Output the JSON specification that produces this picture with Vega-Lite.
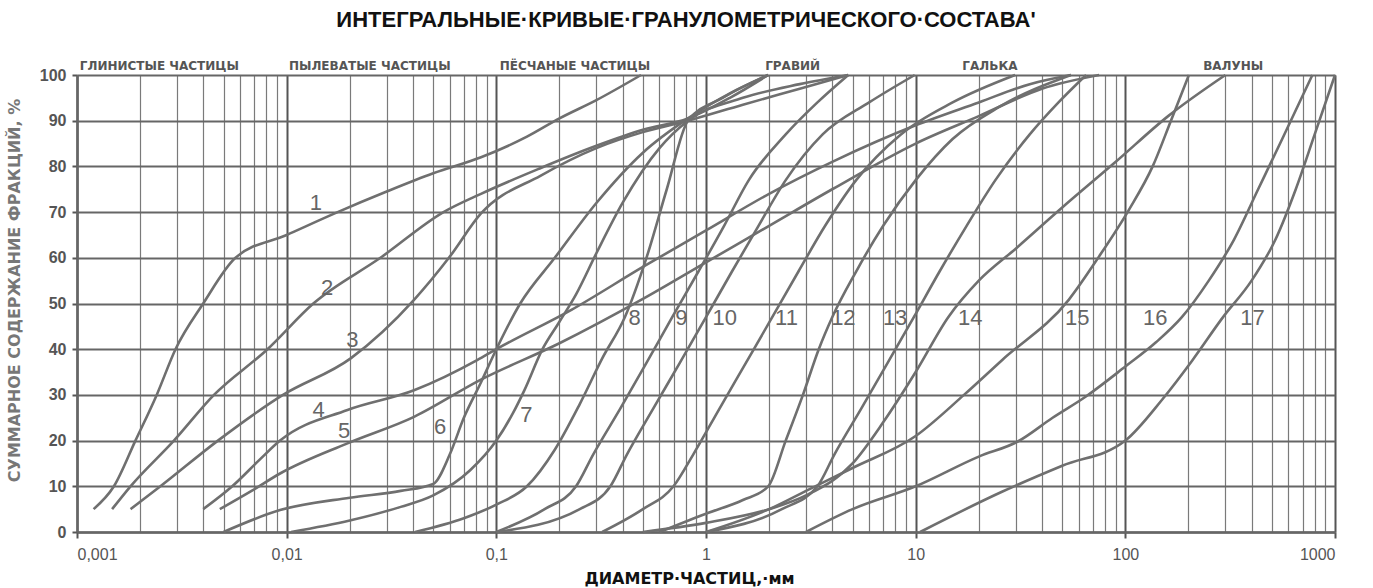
{
  "$schema": "https://vega.github.io/schema/vega-lite/v6.json",
  "autosize": "none",
  "width": 1258,
  "height": 457,
  "padding": {"left": 77, "top": 75, "right": 38, "bottom": 56},
  "background": "white",
  "config": {"view": {"stroke": null}},
  "title": {
    "text": "ИНТЕГРАЛЬНЫЕ·КРИВЫЕ·ГРАНУЛОМЕТРИЧЕСКОГО·СОСТАВА'",
    "anchor": "middle",
    "dx": -20,
    "offset": 28,
    "font": "Liberation Sans",
    "fontSize": 22,
    "fontWeight": "bold",
    "color": "#111"
  },
  "datasets": {
    "curves": [
      {"c": 1, "d": 0.0012, "p": 5}, {"c": 1, "d": 0.0015, "p": 10}, {"c": 1, "d": 0.0019, "p": 20}, {"c": 1, "d": 0.0024, "p": 30}, {"c": 1, "d": 0.00295, "p": 40}, {"c": 1, "d": 0.004, "p": 50}, {"c": 1, "d": 0.0057, "p": 60}, {"c": 1, "d": 0.01, "p": 65}, {"c": 1, "d": 0.0175, "p": 70}, {"c": 1, "d": 0.03, "p": 74.5}, {"c": 1, "d": 0.05, "p": 78.5}, {"c": 1, "d": 0.0845, "p": 82}, {"c": 1, "d": 0.14, "p": 86.5}, {"c": 1, "d": 0.2, "p": 90.5}, {"c": 1, "d": 0.3, "p": 94.5}, {"c": 1, "d": 0.49, "p": 100},
      {"c": 2, "d": 0.00147, "p": 5}, {"c": 2, "d": 0.0018, "p": 10}, {"c": 2, "d": 0.0029, "p": 20}, {"c": 2, "d": 0.0045, "p": 30}, {"c": 2, "d": 0.0081, "p": 40}, {"c": 2, "d": 0.0134, "p": 50}, {"c": 2, "d": 0.028, "p": 60}, {"c": 2, "d": 0.056, "p": 70}, {"c": 2, "d": 0.0845, "p": 74}, {"c": 2, "d": 0.16, "p": 79.5}, {"c": 2, "d": 0.3, "p": 84.5}, {"c": 2, "d": 0.5, "p": 88}, {"c": 2, "d": 0.82, "p": 90.5}, {"c": 2, "d": 1.3, "p": 95}, {"c": 2, "d": 1.98, "p": 100},
      {"c": 3, "d": 0.0018, "p": 5}, {"c": 3, "d": 0.0025, "p": 10}, {"c": 3, "d": 0.0047, "p": 20}, {"c": 3, "d": 0.0096, "p": 30}, {"c": 3, "d": 0.0202, "p": 38}, {"c": 3, "d": 0.0405, "p": 50.8}, {"c": 3, "d": 0.0594, "p": 60}, {"c": 3, "d": 0.0845, "p": 69.7}, {"c": 3, "d": 0.163, "p": 78}, {"c": 3, "d": 0.3, "p": 84}, {"c": 3, "d": 0.5, "p": 87.5}, {"c": 3, "d": 0.82, "p": 90}, {"c": 3, "d": 1.5, "p": 93.5}, {"c": 3, "d": 2.8, "p": 97}, {"c": 3, "d": 4.77, "p": 100},
      {"c": 4, "d": 0.004, "p": 5}, {"c": 4, "d": 0.0055, "p": 10}, {"c": 4, "d": 0.0075, "p": 16}, {"c": 4, "d": 0.0093, "p": 20}, {"c": 4, "d": 0.0195, "p": 26.7}, {"c": 4, "d": 0.0405, "p": 31}, {"c": 4, "d": 0.081, "p": 37.6}, {"c": 4, "d": 0.1, "p": 40}, {"c": 4, "d": 0.228, "p": 48.6}, {"c": 4, "d": 0.5, "p": 58}, {"c": 4, "d": 1, "p": 66}, {"c": 4, "d": 2, "p": 74}, {"c": 4, "d": 4, "p": 81}, {"c": 4, "d": 10, "p": 89}, {"c": 4, "d": 20, "p": 94}, {"c": 4, "d": 35, "p": 98}, {"c": 4, "d": 55, "p": 100},
      {"c": 5, "d": 0.0048, "p": 5}, {"c": 5, "d": 0.0068, "p": 9}, {"c": 5, "d": 0.0093, "p": 12.8}, {"c": 5, "d": 0.0195, "p": 19.4}, {"c": 5, "d": 0.0405, "p": 25.2}, {"c": 5, "d": 0.084, "p": 33.3}, {"c": 5, "d": 0.2, "p": 41.3}, {"c": 5, "d": 0.5, "p": 51}, {"c": 5, "d": 1, "p": 59}, {"c": 5, "d": 2, "p": 67}, {"c": 5, "d": 4, "p": 75}, {"c": 5, "d": 10, "p": 85}, {"c": 5, "d": 20, "p": 91}, {"c": 5, "d": 40, "p": 97}, {"c": 5, "d": 75, "p": 100},
      {"c": 6, "d": 0.005, "p": 0}, {"c": 6, "d": 0.0093, "p": 4.8}, {"c": 6, "d": 0.02, "p": 7.5}, {"c": 6, "d": 0.035, "p": 9}, {"c": 6, "d": 0.05, "p": 10.5}, {"c": 6, "d": 0.06, "p": 17}, {"c": 6, "d": 0.07, "p": 25}, {"c": 6, "d": 0.085, "p": 33}, {"c": 6, "d": 0.1, "p": 40}, {"c": 6, "d": 0.13, "p": 50}, {"c": 6, "d": 0.19, "p": 60}, {"c": 6, "d": 0.3, "p": 72}, {"c": 6, "d": 0.5, "p": 83}, {"c": 6, "d": 0.82, "p": 90.5}, {"c": 6, "d": 1.3, "p": 96}, {"c": 6, "d": 1.98, "p": 100},
      {"c": 7, "d": 0.0105, "p": 0}, {"c": 7, "d": 0.02, "p": 2.5}, {"c": 7, "d": 0.035, "p": 5.5}, {"c": 7, "d": 0.05, "p": 8}, {"c": 7, "d": 0.075, "p": 13.5}, {"c": 7, "d": 0.1, "p": 20}, {"c": 7, "d": 0.12, "p": 26}, {"c": 7, "d": 0.136, "p": 31}, {"c": 7, "d": 0.166, "p": 40}, {"c": 7, "d": 0.2, "p": 46}, {"c": 7, "d": 0.24, "p": 52}, {"c": 7, "d": 0.3, "p": 61}, {"c": 7, "d": 0.4, "p": 72}, {"c": 7, "d": 0.6, "p": 84}, {"c": 7, "d": 0.82, "p": 90}, {"c": 7, "d": 1.5, "p": 95}, {"c": 7, "d": 2.8, "p": 98}, {"c": 7, "d": 4.77, "p": 100},
      {"c": 8, "d": 0.041, "p": 0}, {"c": 8, "d": 0.07, "p": 3}, {"c": 8, "d": 0.1, "p": 6}, {"c": 8, "d": 0.14, "p": 10}, {"c": 8, "d": 0.19, "p": 18}, {"c": 8, "d": 0.25, "p": 28}, {"c": 8, "d": 0.32, "p": 38}, {"c": 8, "d": 0.41, "p": 47}, {"c": 8, "d": 0.52, "p": 60}, {"c": 8, "d": 0.65, "p": 75}, {"c": 8, "d": 0.82, "p": 90}, {"c": 8, "d": 1.2, "p": 95}, {"c": 8, "d": 1.98, "p": 100},
      {"c": 9, "d": 0.1, "p": 0}, {"c": 9, "d": 0.17, "p": 5}, {"c": 9, "d": 0.24, "p": 10}, {"c": 9, "d": 0.29, "p": 17}, {"c": 9, "d": 0.39, "p": 27}, {"c": 9, "d": 0.52, "p": 37}, {"c": 9, "d": 0.69, "p": 47}, {"c": 9, "d": 0.92, "p": 57}, {"c": 9, "d": 1.22, "p": 67}, {"c": 9, "d": 1.6, "p": 77}, {"c": 9, "d": 2.4, "p": 87}, {"c": 9, "d": 3.4, "p": 94}, {"c": 9, "d": 4.77, "p": 100},
      {"c": 10, "d": 0.1, "p": 0}, {"c": 10, "d": 0.25, "p": 5}, {"c": 10, "d": 0.35, "p": 10}, {"c": 10, "d": 0.42, "p": 17}, {"c": 10, "d": 0.56, "p": 27}, {"c": 10, "d": 0.75, "p": 37}, {"c": 10, "d": 1.0, "p": 47}, {"c": 10, "d": 1.33, "p": 57}, {"c": 10, "d": 1.78, "p": 67}, {"c": 10, "d": 2.4, "p": 77}, {"c": 10, "d": 3.6, "p": 87}, {"c": 10, "d": 6, "p": 94}, {"c": 10, "d": 9.9, "p": 100},
      {"c": 11, "d": 0.32, "p": 0}, {"c": 11, "d": 0.5, "p": 5}, {"c": 11, "d": 0.7, "p": 10}, {"c": 11, "d": 0.87, "p": 17}, {"c": 11, "d": 1.16, "p": 27}, {"c": 11, "d": 1.55, "p": 37}, {"c": 11, "d": 2.07, "p": 47}, {"c": 11, "d": 2.76, "p": 57}, {"c": 11, "d": 3.7, "p": 67}, {"c": 11, "d": 5.2, "p": 77}, {"c": 11, "d": 8.5, "p": 87}, {"c": 11, "d": 15, "p": 94}, {"c": 11, "d": 29.8, "p": 100},
      {"c": 12, "d": 0.6, "p": 0}, {"c": 12, "d": 1, "p": 4}, {"c": 12, "d": 1.5, "p": 7}, {"c": 12, "d": 1.98, "p": 10}, {"c": 12, "d": 2.4, "p": 20}, {"c": 12, "d": 2.9, "p": 30}, {"c": 12, "d": 3.45, "p": 40}, {"c": 12, "d": 4.0, "p": 47}, {"c": 12, "d": 5.2, "p": 57}, {"c": 12, "d": 7, "p": 67}, {"c": 12, "d": 10, "p": 77}, {"c": 12, "d": 15, "p": 86}, {"c": 12, "d": 25, "p": 93}, {"c": 12, "d": 55, "p": 100},
      {"c": 13, "d": 1, "p": 0}, {"c": 13, "d": 2.3, "p": 5}, {"c": 13, "d": 3.4, "p": 10}, {"c": 13, "d": 4.1, "p": 17}, {"c": 13, "d": 5.5, "p": 27}, {"c": 13, "d": 7.35, "p": 37}, {"c": 13, "d": 9.8, "p": 47}, {"c": 13, "d": 13, "p": 57}, {"c": 13, "d": 17.5, "p": 67}, {"c": 13, "d": 24, "p": 77}, {"c": 13, "d": 35, "p": 87}, {"c": 13, "d": 48, "p": 94}, {"c": 13, "d": 65, "p": 100},
      {"c": 14, "d": 0.5, "p": 0}, {"c": 14, "d": 1, "p": 2}, {"c": 14, "d": 2, "p": 5}, {"c": 14, "d": 3, "p": 8}, {"c": 14, "d": 5, "p": 15}, {"c": 14, "d": 7, "p": 24}, {"c": 14, "d": 10, "p": 35}, {"c": 14, "d": 14.3, "p": 47}, {"c": 14, "d": 20, "p": 55}, {"c": 14, "d": 30, "p": 62}, {"c": 14, "d": 50, "p": 71}, {"c": 14, "d": 90, "p": 81}, {"c": 14, "d": 160, "p": 91}, {"c": 14, "d": 300, "p": 100},
      {"c": 15, "d": 1, "p": 0}, {"c": 15, "d": 2, "p": 5}, {"c": 15, "d": 3, "p": 9}, {"c": 15, "d": 5, "p": 14}, {"c": 15, "d": 10, "p": 21}, {"c": 15, "d": 17, "p": 30}, {"c": 15, "d": 25.8, "p": 37.6}, {"c": 15, "d": 53.7, "p": 50.8}, {"c": 15, "d": 74.7, "p": 60.2}, {"c": 15, "d": 104, "p": 70.5}, {"c": 15, "d": 135, "p": 80}, {"c": 15, "d": 165, "p": 90}, {"c": 15, "d": 201, "p": 100},
      {"c": 16, "d": 3, "p": 0}, {"c": 16, "d": 5, "p": 5}, {"c": 16, "d": 10, "p": 10}, {"c": 16, "d": 20, "p": 16.5}, {"c": 16, "d": 30.7, "p": 19.8}, {"c": 16, "d": 45, "p": 25}, {"c": 16, "d": 64.6, "p": 29.6}, {"c": 16, "d": 100, "p": 36.2}, {"c": 16, "d": 140, "p": 41.5}, {"c": 16, "d": 186, "p": 47}, {"c": 16, "d": 250, "p": 55}, {"c": 16, "d": 330, "p": 64}, {"c": 16, "d": 430, "p": 75}, {"c": 16, "d": 560, "p": 86}, {"c": 16, "d": 780, "p": 100},
      {"c": 17, "d": 10.5, "p": 0}, {"c": 17, "d": 25.8, "p": 8.8}, {"c": 17, "d": 50, "p": 14.5}, {"c": 17, "d": 100, "p": 20}, {"c": 17, "d": 150, "p": 29}, {"c": 17, "d": 209, "p": 37.6}, {"c": 17, "d": 290, "p": 46.8}, {"c": 17, "d": 400, "p": 55}, {"c": 17, "d": 520, "p": 64}, {"c": 17, "d": 650, "p": 75}, {"c": 17, "d": 800, "p": 87}, {"c": 17, "d": 1000, "p": 100}
    ],
    "labels": [
      {"t": "1", "d": 0.0138, "p": 72}, {"t": "2", "d": 0.0156, "p": 53.5}, {"t": "3", "d": 0.0206, "p": 42}, {"t": "4", "d": 0.0142, "p": 26.7}, {"t": "5", "d": 0.0188, "p": 22}, {"t": "6", "d": 0.054, "p": 23}, {"t": "7", "d": 0.139, "p": 25.6},
      {"t": "8", "d": 0.457, "p": 46.8}, {"t": "9", "d": 0.764, "p": 46.8}, {"t": "10", "d": 1.23, "p": 46.8}, {"t": "11", "d": 2.42, "p": 46.8}, {"t": "12", "d": 4.52, "p": 46.8}, {"t": "13", "d": 7.98, "p": 46.8}, {"t": "14", "d": 18.2, "p": 46.8}, {"t": "15", "d": 58.9, "p": 46.8}, {"t": "16", "d": 139, "p": 46.8}, {"t": "17", "d": 404, "p": 46.8}
    ],
    "zones": [
      {"t": "ГЛИНИСТЫЕ ЧАСТИЦЫ", "d": 0.00247, "p": 100},
      {"t": "ПЫЛЕВАТЫЕ ЧАСТИЦЫ", "d": 0.0249, "p": 100},
      {"t": "ПЁСЧАНЫЕ ЧАСТИЦЫ", "d": 0.237, "p": 100},
      {"t": "ГРАВИЙ", "d": 2.59, "p": 100},
      {"t": "ГАЛЬКА", "d": 22.6, "p": 100},
      {"t": "ВАЛУНЫ", "d": 327, "p": 100}
    ]
  },
  "layer": [
    {
      "data": {"name": "curves"},
      "mark": {"type": "line", "interpolate": "monotone", "stroke": "#6f6f6f", "strokeWidth": 2.6},
      "encoding": {
        "x": {
          "field": "d", "type": "quantitative",
          "scale": {"type": "log", "domain": [0.001, 1000], "nice": false},
          "axis": {
            "title": "ДИАМЕТР·ЧАСТИЦ,·мм",
            "titleFont": "DejaVu Sans", "titleFontSize": 16, "titleFontWeight": "bold", "titleColor": "#111",
            "titleX": 612, "titleY": 51, "titleAlign": "center", "titleBaseline": "alphabetic",
            "values": [0.001,0.002,0.003,0.004,0.005,0.006,0.007,0.008,0.009,0.01,0.02,0.03,0.04,0.05,0.06,0.07,0.08,0.09,0.1,0.2,0.3,0.4,0.5,0.6,0.7,0.8,0.9,1,2,3,4,5,6,7,8,9,10,20,30,40,50,60,70,80,90,100,200,300,400,500,600,700,800,900,1000],
            "labelExpr": "datum.value == 0.001 ? '0,001' : datum.value == 0.01 ? '0,01' : datum.value == 0.1 ? '0,1' : (datum.value == 1 || datum.value == 10 || datum.value == 100 || datum.value == 1000) ? format(datum.value, 'd') : ''",
            "labelOverlap": false,
            "labelFont": "Liberation Sans", "labelFontSize": 16, "labelColor": "#555", "labelPadding": 8,
            "grid": true,
            "gridColor": {"condition": {"test": "indexof([0.001,0.01,0.1,1,10,100,1000], datum.value) >= 0", "value": "#555"}, "value": "#7a7a7a"},
            "gridWidth": {"condition": {"test": "indexof([0.001,0.01,0.1,1,10,100,1000], datum.value) >= 0", "value": 2}, "value": 1.2},
            "ticks": true, "tickSize": 6, "tickWidth": 2, "tickColor": "#555",
            "tickOpacity": {"condition": {"test": "indexof([0.001,0.01,0.1,1,10,100,1000], datum.value) >= 0", "value": 1}, "value": 0},
            "domainColor": "#666", "domainWidth": 2.5
          }
        },
        "y": {
          "field": "p", "type": "quantitative",
          "scale": {"domain": [0, 100], "nice": false},
          "axis": {
            "title": "СУММАРНОЕ СОДЕРЖАНИЕ ФРАКЦИЙ, %",
            "titleFont": "DejaVu Sans", "titleFontSize": 16, "titleFontWeight": "bold", "titleColor": "#777",
            "titleX": -63, "titleY": 215, "titleAngle": -90, "titleAlign": "center", "titleBaseline": "middle",
            "values": [0,5,10,15,20,25,30,35,40,45,50,55,60,65,70,75,80,85,90,95,100],
            "labelExpr": "datum.value % 10 == 0 ? datum.label : ''",
            "labelFont": "Liberation Sans", "labelFontSize": 16, "labelFontWeight": "bold", "labelColor": "#555", "labelPadding": 6,
            "grid": true,
            "gridColor": {"condition": {"test": "datum.value % 10 != 0", "value": "#a5a5a5"}, "value": "#666"},
            "gridWidth": {"condition": {"test": "datum.value % 10 != 0", "value": 1.2}, "value": 2.2},
            "ticks": true, "tickSize": 5, "tickWidth": 2, "tickColor": "#555",
            "tickOpacity": {"condition": {"test": "datum.value % 10 != 0", "value": 0}, "value": 1},
            "domainColor": "#666", "domainWidth": 2.5
          }
        },
        "detail": {"field": "c", "type": "nominal"}
      }
    },
    {
      "data": {"name": "labels"},
      "mark": {"type": "text", "font": "Liberation Sans", "fontSize": 22, "color": "#666", "align": "center", "baseline": "middle"},
      "encoding": {
        "x": {"field": "d", "type": "quantitative"},
        "y": {"field": "p", "type": "quantitative"},
        "text": {"field": "t"}
      }
    },
    {
      "data": {"name": "zones"},
      "mark": {"type": "text", "font": "DejaVu Sans", "fontSize": 12, "fontWeight": "bold", "color": "#555", "align": "center", "baseline": "alphabetic", "dy": -5},
      "encoding": {
        "x": {"field": "d", "type": "quantitative"},
        "y": {"field": "p", "type": "quantitative"},
        "text": {"field": "t"}
      }
    }
  ]
}
